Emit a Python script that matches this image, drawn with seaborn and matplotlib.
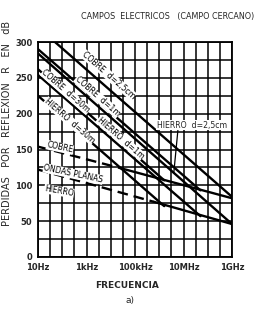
import numpy as np
import pandas as pd
import matplotlib
matplotlib.use("Agg")
import matplotlib.pyplot as plt
import seaborn as sns

sns.set_theme(style="white")
plt.rcParams['font.family'] = ['Liberation Sans Narrow', 'DejaVu Sans']

# ---------------- data (frequency in Hz, reflection loss in dB) ----------------
cu_25cm_f = [50, 1e9];      cu_25cm_R = [300, 84]
cu_1m_f = [10, 5e7];        cu_1m_R = [290, 93]
cu_30m_f = [10, 1.6e6];     cu_30m_R = [262, 107]
fe_25cm_f = [10, 1e9];      fe_25cm_R = [284, 46]
fe_1m_f = [10, 5e7];        fe_1m_R = [254, 57]
fe_30m_f = [10, 1.6e6];     fe_30m_R = [225, 71]
cu_plane_dash_f = [10, 2.5e4];  cu_plane_dash_R = [154, 124]
cu_plane_solid_f = [2.5e4, 1e9]; cu_plane_solid_R = [124, 82]
fe_plane_dash_f = [10, 6e5];    fe_plane_dash_R = [122, 77]
fe_plane_solid_f = [6e5, 1e9];  fe_plane_solid_R = [77, 46]

xtick_vals = [10, 1e3, 1e5, 1e7, 1e9]
xtick_labels = ["10Hz", "1kHz", "100kHz", "10MHz", "1GHz"]
ytick_vals = [0, 50, 100, 150, 200, 250, 300]

solid_lines = [(cu_25cm_f, cu_25cm_R), (cu_1m_f, cu_1m_R), (cu_30m_f, cu_30m_R),
               (fe_25cm_f, fe_25cm_R), (fe_1m_f, fe_1m_R), (fe_30m_f, fe_30m_R),
               (cu_plane_solid_f, cu_plane_solid_R), (fe_plane_solid_f, fe_plane_solid_R)]
dashed_lines = [(cu_plane_dash_f, cu_plane_dash_R), (fe_plane_dash_f, fe_plane_dash_R)]

# ---------------- figure ----------------
fig = plt.figure(figsize=(2.69, 3.12), dpi=100)
ax = fig.add_axes([38/269, 1-257/312, (232-38)/269, (257-42)/312])
ax.set_xscale('log')
ax.set_xlim(10, 1e9)
ax.set_ylim(0, 300)

# grid
for k in range(17):
    ax.axvline(10**(1+0.5*k), color='black', lw=1.1, zorder=1)
for v in range(0, 301, 25):
    ax.axhline(v, color='black', lw=1.1, zorder=1)

for f, r in solid_lines:
    sns.lineplot(x=f, y=r, ax=ax, color='black', lw=1.7, zorder=3)
for f, r in dashed_lines:
    sns.lineplot(x=f, y=r, ax=ax, color='black', lw=1.7, zorder=3,
                 linestyle=(0, (4.5, 2.5)))

for s in ax.spines.values():
    s.set_color('black'); s.set_linewidth(1.3)

ax.set_xticks(xtick_vals)
ax.set_xticklabels(xtick_labels)
ax.minorticks_off()
ax.set_yticks(ytick_vals)
ax.set_yticklabels([str(v) for v in ytick_vals])
ax.tick_params(length=0, labelsize=6, pad=4)
for t in ax.get_xticklabels() + ax.get_yticklabels():
    t.set_fontweight('bold')
ax.set_xlabel("")
ax.set_ylabel("")

tk = dict(fontsize=5.6, color='black', ha='center', va='center', zorder=4,
          rotation_mode='anchor',
          bbox=dict(facecolor='white', edgecolor='none', pad=0.2))
ax.text(10**3.9, 254, "COBRE  d=2,5cm", rotation=-41, **tk)
ax.text(10**3.45, 224, "COBRE  d=1m", rotation=-41, **tk)
ax.text(10**2.15, 231, "COBRE  d=30m", rotation=-41, **tk)
ax.text(10**2.3, 190, "HIERRO  d=30m", rotation=-41, **tk)
ax.text(10**4.4, 166, "HIERRO  d=1m", rotation=-41, **tk)
ax.text(10**1.9, 153, "COBRE", rotation=-12, **tk)
ax.text(10**2.45, 116, "ONDAS PLANAS", rotation=-12, **tk)
ax.text(10**1.87, 92, "HIERRO", rotation=-10, **tk)
ax.annotate("HIERRO  d=2,5cm", xy=(10**6.6, 117.5), xytext=(10**7.35, 184),
            fontsize=5.6, ha='center', va='center', zorder=4,
            bbox=dict(facecolor='white', edgecolor='none', pad=0.5),
            arrowprops=dict(arrowstyle='-', color='black', lw=0.9,
                            shrinkA=0, shrinkB=0, relpos=(0.3, 0)))

fig.text(168/269, 1-17/312, "CAMPOS  ELECTRICOS   (CAMPO CERCANO)",
         fontsize=5.8, ha='center', va='center')
fig.text(7/269, 1-123/312, "PERDIDAS   POR   REFLEXION   R   EN   dB",
         rotation=90, fontsize=7, ha='center', va='center',
         family=['DejaVu Sans'])
fig.text(127/269, 1-286/312, "FRECUENCIA", fontsize=6.5, ha='center', va='center',
         fontweight='bold')
fig.text(130/269, 1-300/312, "a)", fontsize=6.5, ha='center', va='center')

fig.savefig("out.png", dpi=100)
